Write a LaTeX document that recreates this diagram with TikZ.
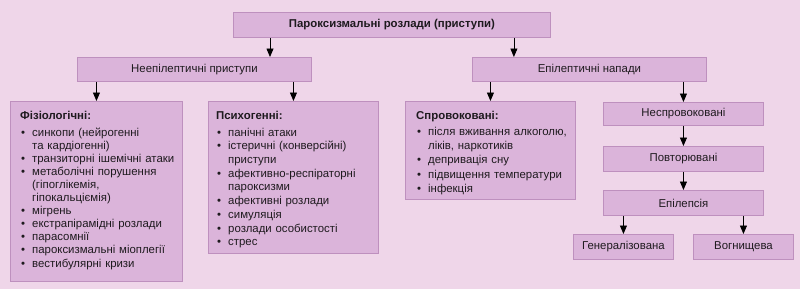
\documentclass[tikz,border=0pt]{standalone}
\usepackage{fontspec}
\setmainfont{Liberation Sans}
\usetikzlibrary{arrows.meta}
\definecolor{bgc}{HTML}{EFD6E9}
\definecolor{boxc}{HTML}{DBB4DA}
\definecolor{edgec}{HTML}{BE90BE}
\definecolor{txtc}{HTML}{1E1A1E}
\newcommand\bitem[1]{\par\noindent\makebox[12pt][l]{\hspace{1pt}•}#1}
\newcommand\bcont[1]{\par\noindent\hspace*{12pt}#1}
\tikzset{
  pbox/.style={draw=edgec, fill=boxc, line width=0.9pt, anchor=north west, inner sep=0pt,
    font=\fontsize{11.4}{13}\selectfont, text=txtc},
  ltext/.style={anchor=north west, inner sep=0pt, align=left, text=txtc},
  arr/.style={-{Triangle[width=7pt,length=8.5pt]}, line width=0.8pt, black},
}
\begin{document}
\begin{tikzpicture}[x=1pt,y=-1pt]
\fill[bgc] (0,0) rectangle (800,289);
\useasboundingbox (0,0) rectangle (800,289);

\node[pbox, minimum width=317pt, minimum height=25pt] (top) at (233,12) {\bfseries Пароксизмальні розлади (приступи)};
\node[pbox, minimum width=234pt, minimum height=24pt] (neep) at (77,57) {Неепілептичні приступи};
\node[pbox, minimum width=234pt, minimum height=24pt] (epil) at (472,57) {Епілептичні напади};

\node[pbox, minimum width=172pt, minimum height=180pt] (fiz) at (10,101) {};
\node[pbox, minimum width=170pt, minimum height=152pt] (psy) at (208,101) {};
\node[pbox, minimum width=170pt, minimum height=98pt] (spr) at (405,101) {};

\node[pbox, minimum width=160pt, minimum height=23pt] (nespr) at (603,102) {Неспровоковані};
\node[pbox, minimum width=160pt, minimum height=25pt] (povt) at (603,146) {Повторювані};
\node[pbox, minimum width=160pt, minimum height=25pt] (epi) at (603,190) {Епілепсія};
\node[pbox, minimum width=100pt, minimum height=25pt] (gen) at (573,234) {Генералізована};
\node[pbox, minimum width=100pt, minimum height=25pt] (vog) at (693,234) {Вогнищева};

\node[ltext, font=\fontsize{11.4}{13.1}\selectfont, text width=168pt] (fiztxt) at (20,111) {%
{\bfseries Фізіологічні:}\par\vspace{3.5pt}%
\bitem{синкопи (нейрогенні}
\bcont{та кардіогенні)}
\bitem{транзиторні ішемічні атаки}
\bitem{метаболічні порушення}
\bcont{(гіпоглікемія,}
\bcont{гіпокальціємія)}
\bitem{мігрень}
\bitem{екстрапірамідні розлади}
\bitem{парасомнії}
\bitem{пароксизмальні міоплегії}
\bitem{вестибулярні кризи}};

\node[ltext, font=\fontsize{11.4}{13.7}\selectfont, text width=165pt] (psytxt) at (216,111) {%
{\bfseries Психогенні:}\par\vspace{3pt}%
\bitem{панічні атаки}
\bitem{істеричні (конверсійні)}
\bcont{приступи}
\bitem{афективно-респіраторні}
\bcont{пароксизми}
\bitem{афективні розлади}
\bitem{симуляція}
\bitem{розлади особистості}
\bitem{стрес}};

\node[ltext, font=\fontsize{11.4}{14.3}\selectfont, text width=165pt] (sprtxt) at (416,111) {%
{\bfseries Спровоковані:}\par\vspace{1.5pt}%
\bitem{після вживання алкоголю,}
\bcont{ліків, наркотиків}
\bitem{депривація сну}
\bitem{підвищення температури}
\bitem{інфекція}};

\draw[arr] ([xshift=37pt]top.south west) -- ([xshift=37pt]top.south west |- neep.north);
\draw[arr] ([xshift=-37pt]top.south east) -- ([xshift=-37pt]top.south east |- epil.north);
\draw[arr] (neep.south -| fiz.north) -- (fiz.north);
\draw[arr] (neep.south -| psy.north) -- (psy.north);
\draw[arr] (epil.south -| spr.north) -- (spr.north);
\draw[arr] (epil.south -| nespr.north) -- (nespr.north);
\draw[arr] (nespr.south) -- (povt.north);
\draw[arr] (povt.south) -- (epi.north);
\draw[arr] (epi.south -| gen.north) -- (gen.north);
\draw[arr] (epi.south -| vog.north) -- (vog.north);
\end{tikzpicture}
\end{document}
